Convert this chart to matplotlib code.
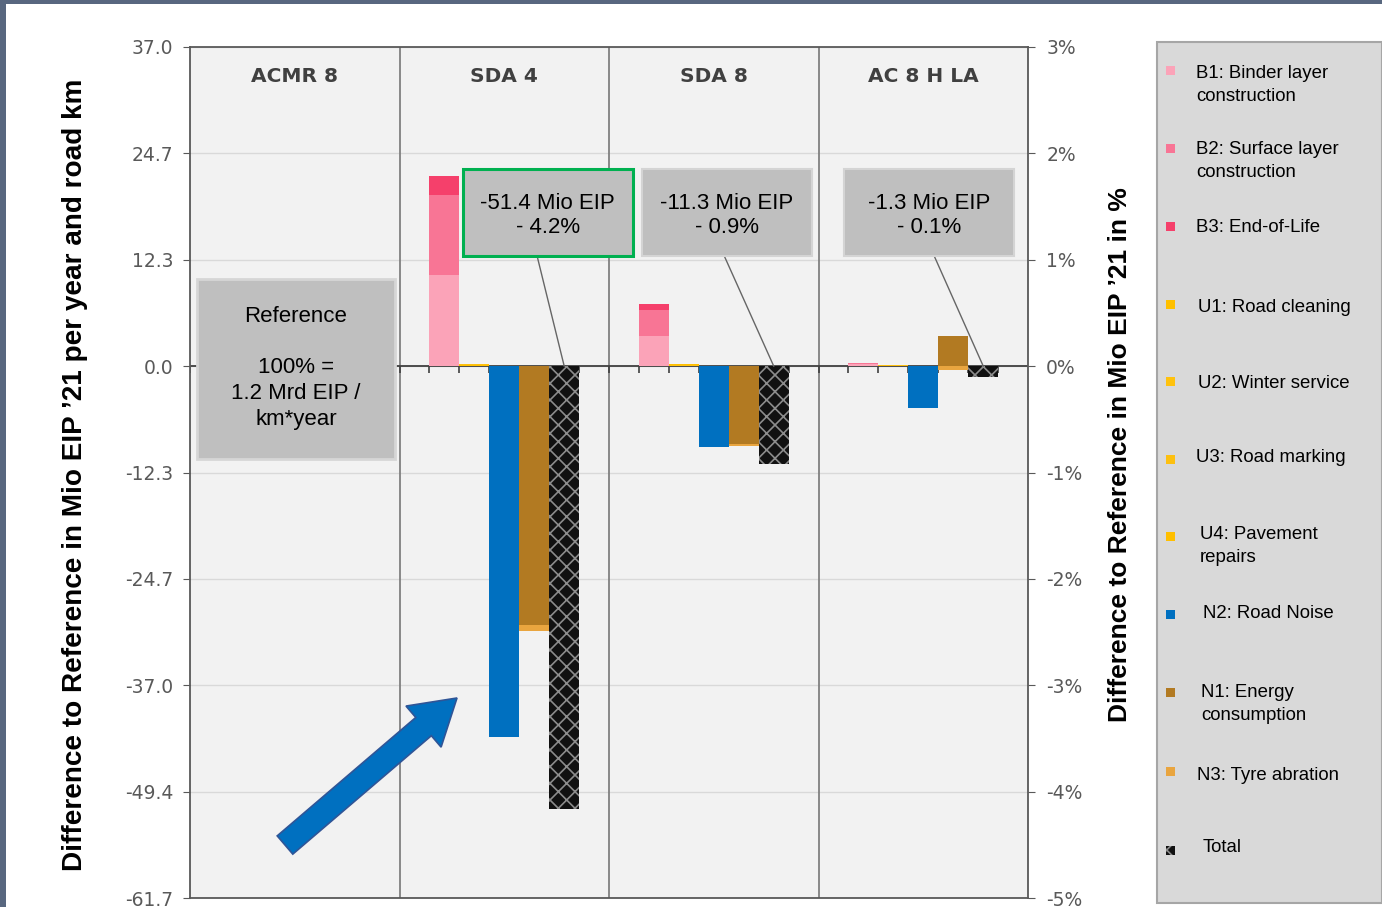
import matplotlib.pyplot as plt
import numpy as np
from matplotlib.patches import Rectangle, FancyArrow
from matplotlib.transforms import IdentityTransform

plt.rcParams['font.family'] = 'Liberation Sans'
plt.rcParams['hatch.linewidth'] = 1.2
plt.rcParams['hatch.color'] = '#8c8c8c'

# scenario groups
groups = ['ACMR 8', 'SDA 4', 'SDA 8', 'AC 8 H LA']

# contributions in Mio EIP '21 per year and road km
b1 = [0, 10.6, 3.5, 0.2]
b2 = [0, 9.3, 3.0, 0.2]
b3 = [0, 2.1, 0.7, 0.0]
u1 = [0, 0.1, 0.05, 0.03]
u2 = [0, 0.05, 0.05, 0.02]
u3 = [0, 0.1, 0.05, 0.03]
u4 = [0, 0.05, 0.05, 0.02]
n2 = [0, -43.0, -9.4, -4.8]
n1 = [0, -30.0, -9.0, 3.5]
n3 = [0, -0.7, -0.3, -0.5]
total = [0, -51.4, -11.3, -1.3]

pct_scale = 12.34  # Mio EIP per 1 % of the reference
pct_ticks = [3, 2, 1, 0, -1, -2, -3, -4, -5]

legend_labels = ['B1: Binder layer\nconstruction', 'B2: Surface layer\nconstruction',
                 'B3: End-of-Life', 'U1: Road cleaning', 'U2: Winter service',
                 'U3: Road marking', 'U4: Pavement\nrepairs', 'N2: Road Noise',
                 'N1: Energy\nconsumption', 'N3: Tyre abration', 'Total']
colors = {'b1': '#fba3b8', 'b2': '#f87595', 'b3': '#f5406b',
          'u1': '#ffc000', 'u2': '#ffc20e', 'u3': '#fdc010', 'u4': '#ffbf00',
          'n2': '#0070c0', 'n1': '#b27a22', 'n3': '#e9a53f', 'total': '#111111'}

fig = plt.figure(figsize=(13.82, 9.07), dpi=100)
ax = fig.add_axes([0.1375, 0.0099, 0.6064, 0.9383])
ax.set_facecolor('#f2f2f2')

x = np.arange(len(groups))
w = 0.143


def stacked(xpos, series, cols):
    pos = np.zeros(len(xpos))
    neg = np.zeros(len(xpos))
    for vals, c in zip(series, cols):
        vals = np.array(vals, dtype=float)
        bottom = np.where(vals >= 0, pos, neg)
        ax.bar(xpos, vals, w, bottom=bottom, color=c, lw=0, zorder=3)
        pos = pos + np.clip(vals, 0, None)
        neg = neg + np.clip(vals, None, 0)


stacked(x - 2 * w, [b1, b2, b3], [colors['b1'], colors['b2'], colors['b3']])
stacked(x - w, [u1, u2, u3, u4], [colors['u1'], colors['u2'], colors['u3'], colors['u4']])
stacked(x, [n2], [colors['n2']])
stacked(x + w, [n1, n3], [colors['n1'], colors['n3']])
ax.bar(x + 2 * w, total, w, color=colors['total'], edgecolor='#8c8c8c',
       hatch='xx', lw=0, zorder=3)

# zero line with small ticks at the slot edges
ax.axhline(0, color='#404040', lw=1.3, zorder=2)
edges = [g + (k - 2.5) * w for g in x for k in range(6)] + [g - 0.5 for g in x]
ax.vlines(edges, -0.8, 0, color='#404040', lw=1.2, zorder=2)

for s in [0.5, 1.5, 2.5]:
    ax.axvline(s, color='#808080', lw=1.3, zorder=1)

ax.set_xlim(-0.5, 3.5)
ax.set_ylim(-5 * pct_scale, 3 * pct_scale)
ax.set_xticks([])
yt = [p * pct_scale for p in pct_ticks]
ax.set_yticks(yt)
ax.set_yticklabels([f'{v:.1f}' for v in yt], family='DejaVu Sans', fontsize=13.5, color='#595959')
ax.yaxis.grid(True, color='#d9d9d9', lw=1)
ax.set_axisbelow(True)
ax.tick_params(axis='y', length=5, color='#595959', pad=7)
for sp in ax.spines.values():
    sp.set_color('#595959')
    sp.set_linewidth(1.3)

ax2 = ax.twinx()
ax2.set_ylim(-5, 3)
ax2.set_yticks(pct_ticks)
ax2.set_yticklabels([f'{p}%' for p in pct_ticks], family='DejaVu Sans', fontsize=13.5, color='#595959')
ax2.tick_params(axis='y', length=5, color='#595959', pad=8)
for sp in ax2.spines.values():
    sp.set_visible(False)

for g, name in zip(x, groups):
    ax.text(g, 33.6, name, ha='center', va='center', fontsize=14.5, weight='bold',
            color='#404040', family='DejaVu Sans')

# value boxes above the scenarios
box_left = [None, 0.803, 1.658, 2.622]
line_x = [None, 1.156, 2.049, 3.051]
box_edge = [None, '#00b050', '#d4d4d4', '#d4d4d4']
box_lw = [None, 2.2, 1.5, 1.5]
for g in x[1:]:
    ax.add_patch(Rectangle((box_left[g], 12.83), 0.81, 10.06, fc='#bfbfbf',
                           ec=box_edge[g], lw=box_lw[g], zorder=5))
    ax.text(box_left[g] + 0.405, 17.5,
            f'{total[g]:.1f} Mio EIP\n- {abs(total[g]) / pct_scale:.1f}%',
            ha='center', va='center', fontsize=16, zorder=6, linespacing=1.2)
    ax.plot([line_x[g], g + 2 * w], [12.83, 0], color='#666666', lw=1, zorder=4)

# reference box
ax.add_patch(Rectangle((-0.467, -10.75), 0.946, 20.81, fc='#bfbfbf', ec='#d6d6d6',
                       lw=2, zorder=5))
ax.text(0.006, -0.2, 'Reference\n\n100% =\n1.2 Mrd EIP /\nkm*year', ha='center',
        va='center', fontsize=16, zorder=6, linespacing=1.3)

# highlight arrow
fig.add_artist(FancyArrow(285, 62, 172, 147, width=24, head_width=54, head_length=44,
                          length_includes_head=True, fc='#0070c0', ec='#2f5597', lw=1.2,
                          transform=IdentityTransform()))

fig.text(0.054, 0.476, "Difference to Reference in Mio EIP \u201921 per year and road km",
         rotation=90, ha='center', va='center', fontsize=20.1, fontweight='bold')
fig.text(0.8104, 0.499, "Difference to Reference in Mio EIP \u201921 in %",
         rotation=90, ha='center', va='center', fontsize=19, fontweight='bold')

# legend panel
W, H = 1382, 907
fig.add_artist(Rectangle((1157 / W, 4 / H), 225 / W, 861 / H, transform=fig.transFigure,
                         fc='#d9d9d9', ec='#a6a6a6', lw=1.5))
leg_keys = ['b1', 'b2', 'b3', 'u1', 'u2', 'u3', 'u4', 'n2', 'n1', 'n3', 'total']
text_y = [85, 161, 227, 308, 383, 457, 546, 614, 704, 776, 848]
mark_y = [70, 148, 226, 304, 381, 459, 536, 614, 692, 771, 850]
text_x = [1196, 1196, 1196, 1198, 1198, 1196, 1200, 1203, 1201, 1197, 1203]
for key, lab, ty, my, tx in zip(leg_keys, legend_labels, text_y, mark_y, text_x):
    fig.add_artist(Rectangle((1166 / W, (H - my - 4.5) / H), 9 / W, 9 / H,
                             transform=fig.transFigure, fc=colors[key], lw=0,
                             hatch='xx' if key == 'total' else None))
    fig.text(tx / W, (H - ty) / H, lab, ha='left', va='center', fontsize=13.4,
             linespacing=1.45)

# dark frame along the top and left edge
fig.add_artist(Rectangle((0, 1 - 4 / H), 1, 4 / H, transform=fig.transFigure,
                         fc='#58677f', lw=0))
fig.add_artist(Rectangle((0, 0), 6 / W, 1, transform=fig.transFigure,
                         fc='#58677f', lw=0))

fig.savefig('out.png', dpi=100)
